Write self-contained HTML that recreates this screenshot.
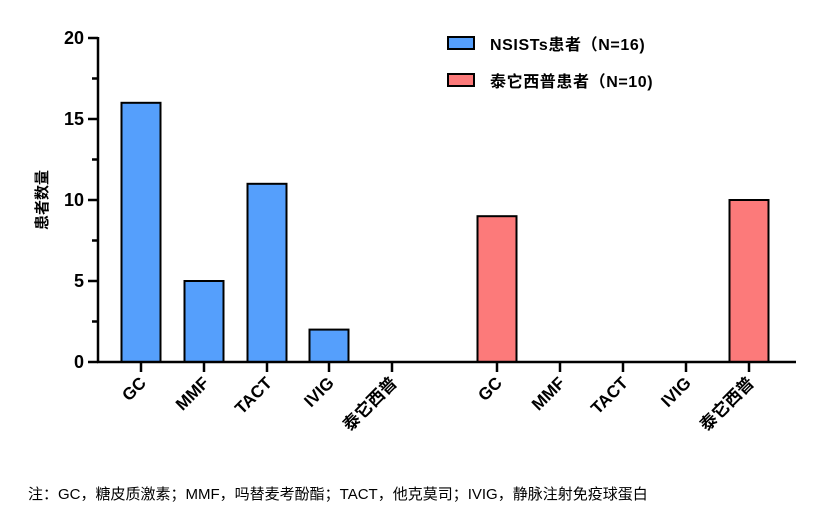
<!DOCTYPE html>
<html><head><meta charset="utf-8"><style>
body{margin:0;background:#fff;width:826px;height:514px;overflow:hidden}
svg text{font-family:"Liberation Sans","Noto Sans CJK SC",sans-serif;font-weight:bold;fill:#000}
.note{position:absolute;left:28px;top:483px;font:15px "Liberation Sans","Noto Sans CJK SC",sans-serif;color:#000}
</style></head><body>
<svg id="chart" width="826" height="514" style="position:absolute;left:0;top:0"></svg>
<div class="note">注：GC，糖皮质激素；MMF，吗替麦考酚酯；TACT，他克莫司；IVIG，静脉注射免疫球蛋白</div>
<script>
const categories=["GC","MMF","TACT","IVIG","泰它西普","GC","MMF","TACT","IVIG","泰它西普"];
const groups=[0,0,0,0,0,1,1,1,1,1];
const values=[16,5,11,2,0,9,0,0,0,10];
const yTicks=[0,5,10,15,20];
const seriesNames=["NSISTs患者（N=16)","泰它西普患者（N=10)"];
const colors=["#559ffc","#fc7a7a"];
const NS="http://www.w3.org/2000/svg";
const svg=document.getElementById('chart');
function el(t,a,txt){const e=document.createElementNS(NS,t);for(const k in a)e.setAttribute(k,a[k]);if(txt!==undefined)e.textContent=txt;svg.appendChild(e);return e;}
const y0=362,yTop=38,yMax=20;
function yS(v){return y0-(v/yMax)*(y0-yTop);}
const xPos=[141,204,267,329,392,497,560,623,686,749];
function xS(i){return xPos[i];}
values.forEach((v,i)=>{if(v<=0)return;
 const b=el('rect',{x:xS(i)-19.5,y:yS(v),width:39,height:y0-yS(v),fill:colors[groups[i]],stroke:'#000','stroke-width':2});
 
 });
const ya=el('line',{x1:98,y1:yTop-1,x2:98,y2:y0+1,stroke:'#000','stroke-width':2.5});

for(let v=0;v<=yMax;v+=2.5){const major=v%5===0;el('line',{x1:major?88:92,y1:yS(v),x2:98,y2:yS(v),stroke:'#000','stroke-width':2.5});}
yTicks.forEach(v=>{const t=el('text',{x:84,y:yS(v)+6,'text-anchor':'end','font-size':18},String(v));
 });
const yt=el('text',{transform:'translate(47,200) rotate(-90)','text-anchor':'middle','font-size':15},'患者数量');

const xa=el('line',{x1:97,y1:y0,x2:796,y2:y0,stroke:'#000','stroke-width':2.5});

categories.forEach((c,i)=>{const x=xS(i);el('line',{x1:x,y1:y0,x2:x,y2:y0+10,stroke:'#000','stroke-width':2.5});
 const t=el('text',{transform:`translate(${x+6},${y0+22}) rotate(-45)`,'text-anchor':'end','font-size':17},c);
 });
seriesNames.forEach((n,i)=>{const yy=37+i*37;
 const r=el('rect',{x:448,y:yy,width:26,height:12,fill:colors[i],stroke:'#000','stroke-width':2});
 
 const t=el('text',{x:490,y:yy+13,'font-size':16,'letter-spacing':0.6},n);
 });
</script>
</body></html>
